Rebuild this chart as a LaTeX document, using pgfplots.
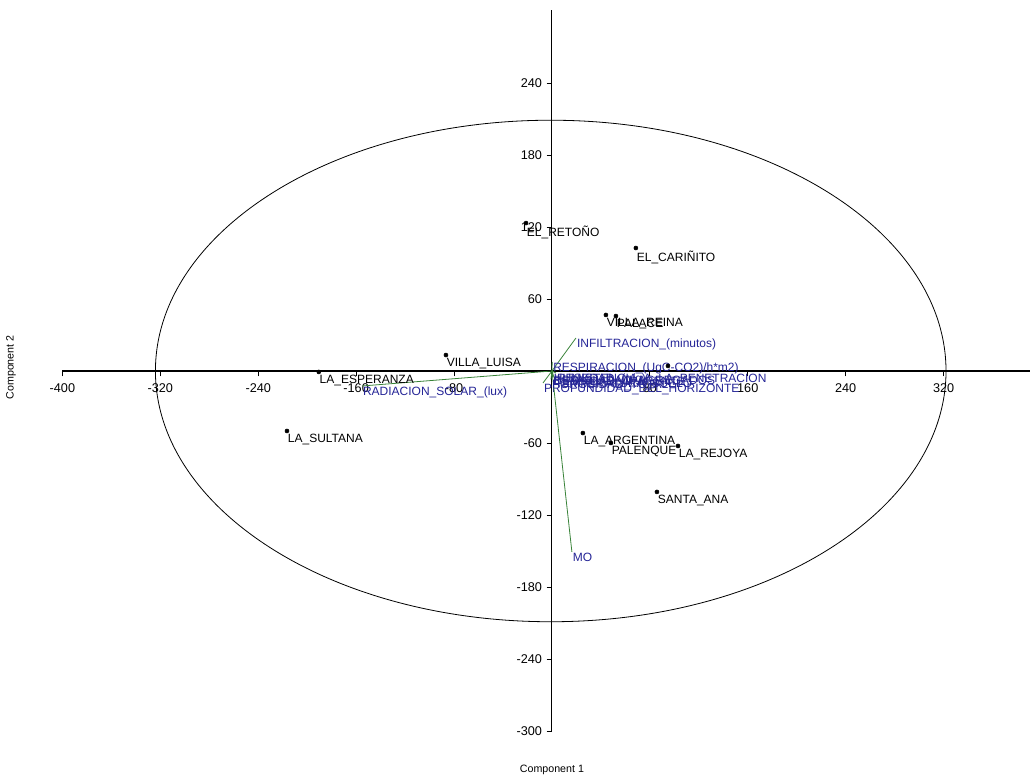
\documentclass[border=0pt]{standalone}
\usepackage{fontspec}
\setmainfont{Liberation Sans}
\usepackage{pgfplots}
\pgfplotsset{compat=1.18}
\definecolor{vecgreen}{RGB}{56,130,56}
\definecolor{varblue}{RGB}{36,36,150}
\newcommand{\lbl}{\fontsize{9}{10}\selectfont}
\tikzset{
  vec/.style={vecgreen, line width=0.6pt},
  vlab/.style={anchor=north west, inner sep=0.5pt, font=\lbl, text=varblue},
}
\begin{document}
\begin{tikzpicture}
\begin{axis}[
  x=0.918pt, y=0.9pt,
  axis lines=middle,
  axis line style={-, line width=0.8pt},
  xmin=-400, xmax=391, ymin=-300, ymax=301,
  enlargelimits=false,
  xtick={-400,-320,-240,-160,-80,80,160,240,320},
  ytick={-300,-240,-180,-120,-60,60,120,180,240},
  tick align=outside,
  major tick length=4pt,
  tick style={black, line width=0.6pt},
  tick label style={font=\fontsize{9.5}{11}\selectfont},
  xticklabel style={yshift=-2pt},
  /pgf/number format/assume math mode=true,
  clip=false,
]
% bounding box of the whole picture
\path (axis cs:-451,-338.3) rectangle (axis cs:391.3,309.2);

% 95% ellipse
\draw[black, line width=0.6pt] (axis cs:-1,0) ellipse [x radius=323, y radius=209];

% loadings (vectors) with their labels at the tips
\addplot[vec] coordinates {(0,0) (19.6,27.5)} node[vlab, pos=1] {INFILTRACION\_(minutos)};
\addplot[vec] coordinates {(0,0) (-7.3,-10)} node[vlab, pos=1] {PROFUNDIDAD\_DEL\_HORIZONTE};
\addplot[vec] coordinates {(0,0) (-155.2,-12.5)} node[vlab, pos=1] {RADIACION\_SOLAR\_(lux)};
\addplot[vec] coordinates {(0,0) (16.3,-150.8)} node[vlab, pos=1] {MO};
\addplot[vec] coordinates {(0,0) (0.2,7.5)} node[vlab, pos=1] {RESPIRACION\_(UgC-CO2)/h*m2)};
\addplot[vec] coordinates {(0,0) (3.3,-1.7)} node[vlab, pos=1] {RESISTENCIA\_A\_LA\_PENETRACION};
\addplot[vec] coordinates {(0,0) (0.8,-1.5)} node[vlab, pos=1] {HUMEDAD\_(g/g)};
\addplot[vec] coordinates {(0,0) (0.1,-4)} node[vlab, pos=1] {DENSIDAD\_APARENTE};
\addplot[vec] coordinates {(0,0) (1.7,-5.5)} node[vlab, pos=1] {TEMPERATURA\_SUELO};
\addplot[vec] coordinates {(0,0) (-0.8,-7)} node[vlab, pos=1] {POROSIDAD\_TOTAL};
\addplot[vec] coordinates {(0,0) (0.8,-3)} node[vlab, pos=1] {ESTABILIDAD\_AGREGADOS};

% scores
\addplot[only marks, mark=*, mark size=1.5pt, black] coordinates {(94.8,4.2)};
\addplot[only marks, mark=*, mark size=1.5pt, black,
  nodes near coords, point meta=explicit symbolic,
  every node near coord/.append style={anchor=north west, inner sep=0.5pt, yshift=-1.5pt, font=\lbl, text=black}]
coordinates {
  (-21.2,123.3) [EL\_RETOÑO]
  (68.6,102.5) [EL\_CARIÑITO]
  (44.1,46.7) [VILLA\_REINA]
  (52.3,45.8) [PALACE]
  (-86.6,13.3) [VILLA\_LUISA]
  (-190.5,-0.8) [LA\_ESPERANZA]
  (-216.5,-50) [LA\_SULTANA]
  (25.3,-51.7) [LA\_ARGENTINA]
  (48.2,-60) [PALENQUE]
  (103,-62.5) [LA\_REJOYA]
  (85.8,-100.8) [SANTA\_ANA]
};

\node[font=\fontsize{8}{9}\selectfont] at (axis cs:0,-332.5) {Component 1};
\node[font=\fontsize{8}{9}\selectfont, rotate=90] at (axis cs:-442,3) {Component 2};
\end{axis}
\end{tikzpicture}
\end{document}
